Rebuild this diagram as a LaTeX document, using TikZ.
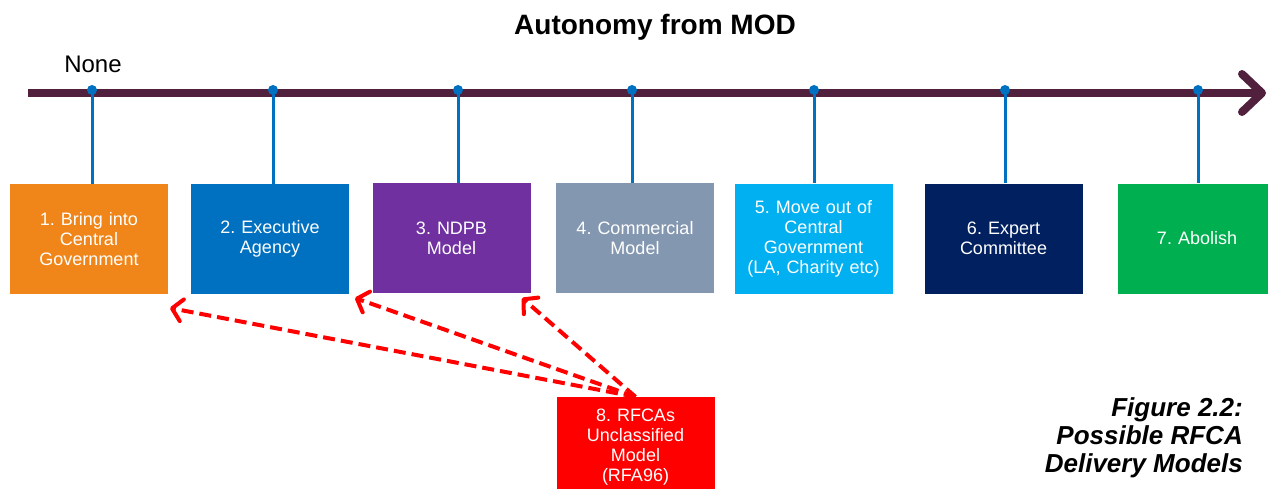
\documentclass[tikz,border=0pt]{standalone}
\usepackage{fontspec}
\setmainfont{Liberation Sans}
\usetikzlibrary{arrows.meta,calc}
\definecolor{axiscol}{RGB}{80,32,60}
\definecolor{stemcol}{RGB}{0,112,192}
\definecolor{c1}{RGB}{240,133,26}
\definecolor{c2}{RGB}{0,112,192}
\definecolor{c3}{RGB}{112,48,160}
\definecolor{c4}{RGB}{132,151,176}
\definecolor{c5}{RGB}{0,176,240}
\definecolor{c6}{RGB}{0,32,96}
\definecolor{c7}{RGB}{0,176,80}
\definecolor{c8}{RGB}{255,0,0}
\tikzset{
  box/.style={inner sep=0pt, minimum width=158pt, minimum height=110pt, text width=158pt, align=center,
    text=white, font=\frenchspacing\fontsize{18}{20}\selectfont},
  dotnode/.style={circle, fill=stemcol, inner sep=0pt, minimum size=10pt},
  stem/.style={draw=stemcol, line width=3pt},
  axis/.style={draw=axiscol, line width=8pt},
  redarrow/.style={draw=c8, line width=4pt, dash pattern=on 12pt off 6pt, -{Straight Barb[length=10pt,width=22pt,round]}},
}
\begin{document}
\begin{tikzpicture}[x=1pt,y=-1pt]
\useasboundingbox (0,0) rectangle (1268,488);
\clip (0,0) rectangle (1268,488);
% title
\node[font=\bfseries\fontsize{28}{32}\selectfont] (title) at (655,27) {Autonomy from MOD};
\node[font=\fontsize{24}{28}\selectfont] (none) at (93,64) {None};
% axis
\coordinate (axL) at (28,93);
\coordinate (axR) at (1260,93);
\coordinate (hTop) at (1242,74);
\coordinate (hTip) at (1262,93);
\coordinate (hBot) at (1242,112);
\draw[axis] (axL) -- (axR);
\draw[axis, line cap=round, line join=round] (hTop) -- (hTip) -- (hBot);
% boxes
\node[box, fill=c1] (b1) at (89,239) {1. Bring into\\Central\\Government};
\node[box, fill=c2] (b2) at (270,239) {2. Executive\\Agency};
\node[box, fill=c3] (b3) at (451.5,238) {3. NDPB\\Model};
\node[box, fill=c4] (b4) at (635,238) {4. Commercial\\Model};
\node[box, fill=c5] (b5) at (813.5,238.5) {5. Move out of\\Central\\Government\\(LA, Charity etc)};
\node[box, fill=c6] (b6) at (1003.5,238.5) {6. Expert\\Committee};
\node[box, fill=c7] (b7) at (1197,238.5) {7. Abolish};
\node[box, fill=c8, minimum height=100pt] (b8) at (635.5,447) {8. RFCAs\\Unclassified\\Model\\(RFA96)};
% dots and stems
\foreach \i/\x in {1/92,2/273,3/458,4/632,5/814,6/1005,7/1198}{
  \node[dotnode] (d\i) at (\x,90) {};
  \draw[stem] (d\i.center) -- (d\i.center |- b\i.north);
}
% red arrows
\coordinate (t1) at (170,308);
\coordinate (t2) at (355,298);
\coordinate (t3) at (522,298);
\draw[redarrow] (b8.north) -- (t1);
\draw[redarrow] (b8.north) -- (t2);
\draw[redarrow] (b8.north) -- (t3);
% caption
\node[anchor=north east, align=right, inner sep=0pt, font=\bfseries\itshape\fontsize{26}{28}\selectfont] (cap) at (1243,397) {Figure 2.2:\\Possible RFCA\\Delivery Models};
\end{tikzpicture}
\end{document}
